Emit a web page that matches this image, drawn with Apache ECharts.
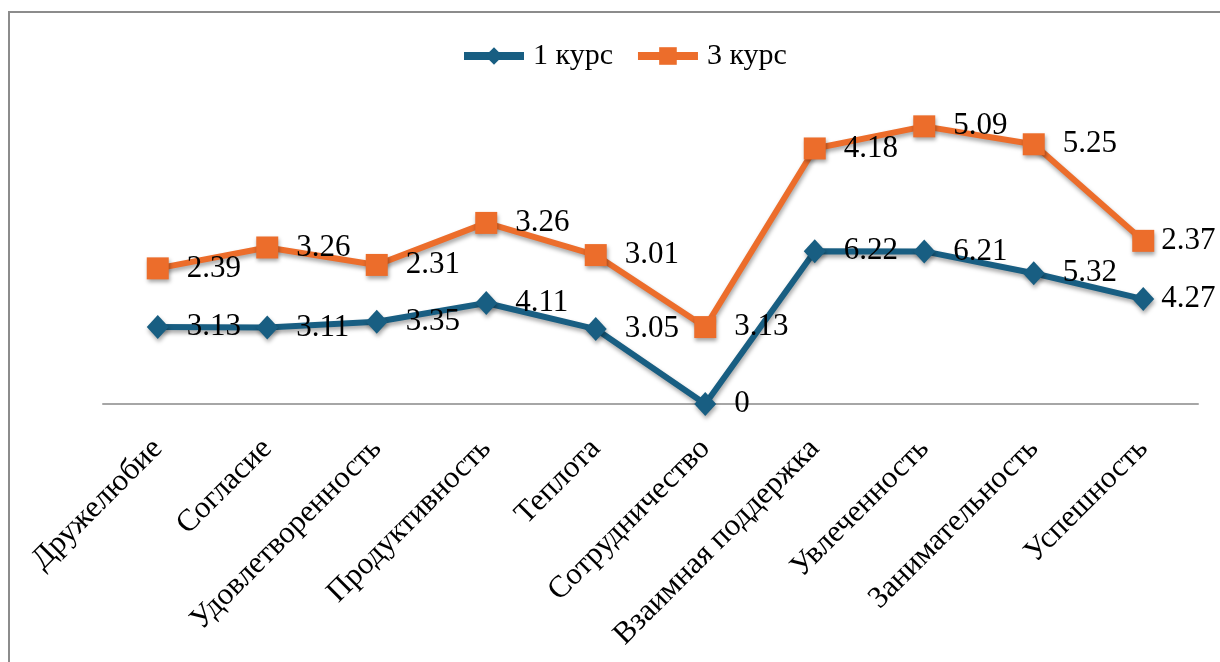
<!DOCTYPE html>
<html><head><meta charset="utf-8">
<script src="https://cdn.jsdelivr.net/npm/echarts@6/dist/echarts.min.js"></script>
<style>html,body{margin:0;padding:0;background:#fff}#c{width:1220px;height:662px}</style>
</head><body><div id="c"></div>
<script>
const categories = ['Дружелюбие','Согласие','Удовлетворенность','Продуктивность','Теплота','Сотрудничество','Взаимная поддержка','Увлеченность','Занимательность','Успешность'];
const course1 = [3.13, 3.11, 3.35, 4.11, 3.05, 0, 6.22, 6.21, 5.32, 4.27];
const course3 = [2.39, 3.26, 2.31, 3.26, 3.01, 3.13, 4.18, 5.09, 5.25, 2.37];
const seriesNames = ['1 курс', '3 курс'];

const font = '"Liberation Serif", "Times New Roman", serif';
const chart = echarts.init(document.getElementById('c'));
const shadow = {shadowBlur: 4, shadowColor: 'rgba(0,0,0,0.35)', shadowOffsetY: 3, shadowOffsetX: 1};
// last point labels are squeezed closer to the marker (as in the original)
const withLabels = arr => arr.map((v, i) => i === arr.length - 1 ? {value: v, label: {distance: 7}} : v);
const labelStyle = {show: true, position: 'right', distance: 18, fontFamily: font, fontSize: 31, color: '#000'};
chart.setOption({
  animation: false,
  graphic: [{type: 'rect', shape: {x: 9, y: 12, width: 1300, height: 700}, style: {fill: 'none', stroke: '#8c8c8c', lineWidth: 2}, silent: true}],
  legend: {
    top: 36, left: 455, itemWidth: 60, itemHeight: 22, itemGap: 21,
    lineStyle: {width: 8},
    textStyle: {fontFamily: font, fontSize: 30, color: '#000', padding: [0, 0, 0, 4]},
    data: seriesNames
  },
  grid: {left: 103, right: 22, top: 60, bottom: 258},
  xAxis: {
    type: 'category', data: categories, boundaryGap: true,
    axisLine: {lineStyle: {color: '#a6a6a6', width: 2}},
    axisTick: {show: false},
    axisLabel: {rotate: 45, interval: 0, margin: 40, fontFamily: font, fontSize: 31, color: '#000'}
  },
  yAxis: {type: 'value', min: 0, max: 14, show: false, splitLine: {show: false}},
  series: [
    {
      name: seriesNames[0], type: 'line', stack: 'total', data: withLabels(course1),
      symbol: 'diamond', symbolSize: [22, 24],
      lineStyle: {width: 6, color: '#185e82', ...shadow},
      itemStyle: {color: '#185e82', ...shadow},
      label: labelStyle
    },
    {
      name: seriesNames[1], type: 'line', stack: 'total', data: withLabels(course3),
      symbol: 'rect', symbolSize: 22,
      lineStyle: {width: 6, color: '#ec6d2b', ...shadow},
      itemStyle: {color: '#ec6d2b', ...shadow},
      label: labelStyle
    }
  ]
});
</script></body></html>
